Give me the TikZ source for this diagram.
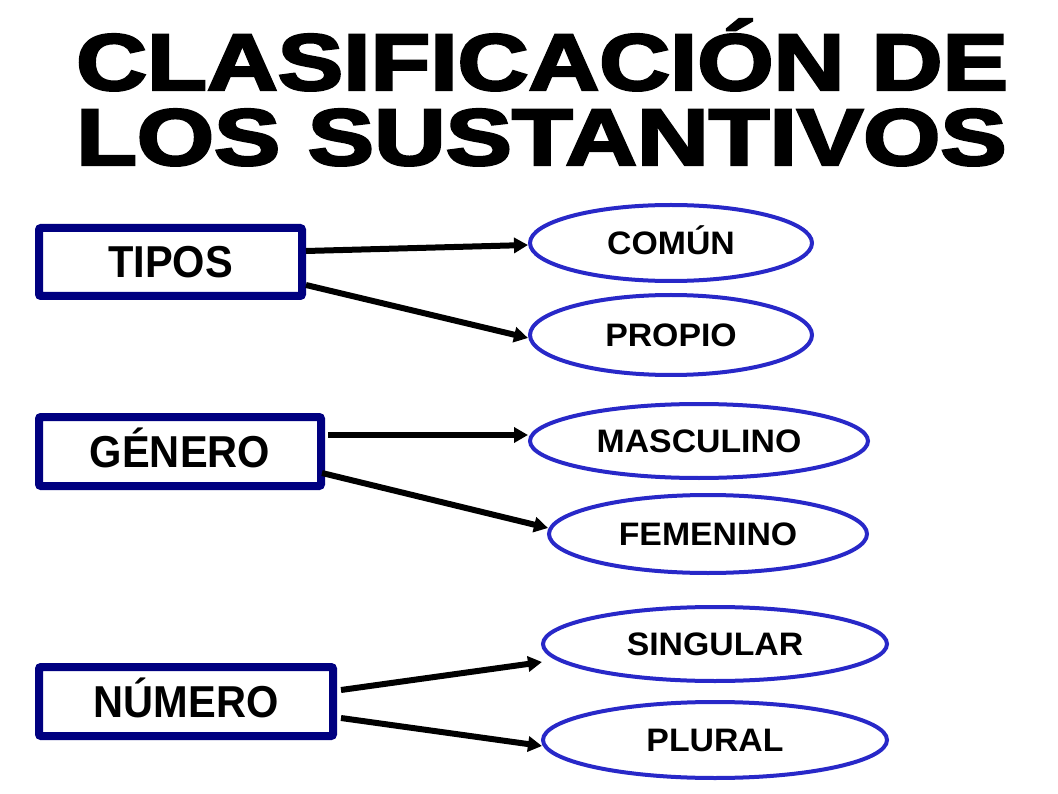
\documentclass[tikz,border=0pt]{standalone}
\usepackage{fontspec}
\setmainfont{Liberation Sans}
\newfontfamily\titlefont[FakeBold=3]{Liberation Sans Bold}
\usetikzlibrary{arrows.meta,shapes.geometric,calc}
\definecolor{boxcol}{RGB}{0,0,128}
\definecolor{ellcol}{RGB}{40,40,200}
\begin{document}
\begin{tikzpicture}[x=1pt,y=-1pt,
  catbox/.style={draw=boxcol,line width=8pt,rounded corners=2pt,inner sep=0pt,
    text height=32pt,text depth=0pt,font=\fontsize{44.7}{44.7}\selectfont\bfseries},
  leaf/.style={ellipse,draw=ellcol,line width=4pt,inner sep=0pt,
    text height=23pt,text depth=0pt,font=\fontsize{32.5}{32.5}\selectfont\bfseries},
  link/.style={line width=6pt,-{Triangle[length=14pt,width=15pt]}},
  titleline/.style={anchor=base west,inner sep=0pt,
    font=\titlefont\fontsize{80}{80}\selectfont}]
\fill[white] (0,0) rectangle (1058,794);
% title
\node[titleline] (t1) at (76,90) {\scalebox{1.226}[1]{CLASIFICACIÓN DE}};
\node[titleline] (t2) at (76,165) {\scalebox{1.241}[1]{LOS SUSTANTIVOS}};
% category boxes
\node[catbox,minimum width=263pt,minimum height=68pt] (tipos) at (170.5,262) {\scalebox{0.93}[1]{TIPOS}};
\node[catbox,minimum width=282pt,minimum height=69pt] (genero) at (180,451.5) {\scalebox{0.93}[1]{GÉNERO}};
\node[catbox,minimum width=294pt,minimum height=69pt] (numero) at (186,701.5) {\scalebox{0.93}[1]{NÚMERO}};
% leaves
\node[leaf,minimum width=282pt,minimum height=76pt] (comun) at (671,243) {\scalebox{1.04}[1]{COMÚN}};
\node[leaf,minimum width=282pt,minimum height=80pt] (propio) at (671,335) {\scalebox{1.04}[1]{PROPIO}};
\node[leaf,minimum width=338pt,minimum height=74pt] (masculino) at (699,441) {\scalebox{1.04}[1]{MASCULINO}};
\node[leaf,minimum width=318pt,minimum height=78pt] (femenino) at (708,534) {\scalebox{1.04}[1]{FEMENINO}};
\node[leaf,minimum width=344pt,minimum height=74pt] (singular) at (715,644) {\scalebox{1.04}[1]{SINGULAR}};
\node[leaf,minimum width=344pt,minimum height=76pt] (plural) at (715,740) {\scalebox{1.04}[1]{PLURAL}};
% connectors
\draw[link] ($(tipos.east)+(0,-11)$) -- ($(comun.west)+(0,2)$);
\draw[link] ($(tipos.east)+(0,23)$) -- ($(propio.west)+(0,3)$);
\draw[link] ($(genero.east)+(3,-16.5)$) -- ($(masculino.west)+(0,-6)$);
\draw[link] ($(genero.east)+(-3,21.5)$) -- ($(femenino.west)+(1,-6)$);
\draw[link] ($(numero.east)+(4,-11.5)$) -- ($(singular.west)+(1,18)$);
\draw[link] ($(numero.east)+(4,16.5)$) -- ($(plural.west)+(1,6)$);
\end{tikzpicture}
\end{document}
